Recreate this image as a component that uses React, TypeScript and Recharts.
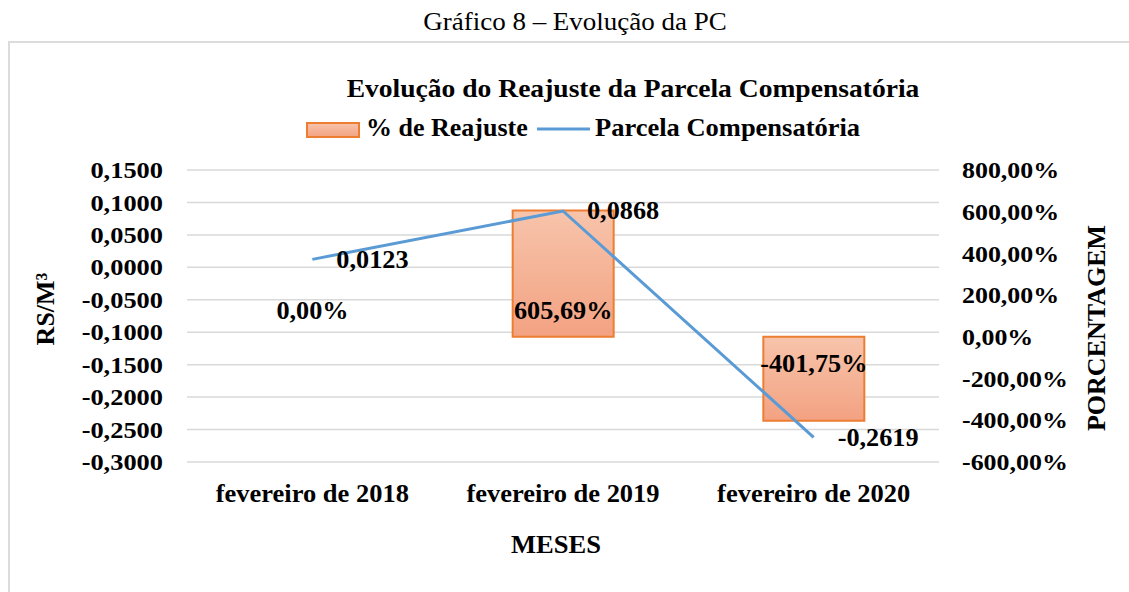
import React from 'react';
import { ComposedChart, Bar, Line, XAxis, YAxis, CartesianGrid, LabelList, Rectangle } from 'recharts';

const MONTHS = ['fevereiro de 2018', 'fevereiro de 2019', 'fevereiro de 2020'];
const PCT_REAJUSTE = [0, 605.69, -401.75];
const PARCELA = [0.0123, 0.0868, -0.2619];
const LEFT_TICKS = [0.15, 0.1, 0.05, 0, -0.05, -0.1, -0.15, -0.2, -0.25, -0.3];
const RIGHT_TICKS = [800, 600, 400, 200, 0, -200, -400, -600];

const HEADER = 'Gráfico 8 – Evolução da PC';
const TITLE = 'Evolução do Reajuste da Parcela Compensatória';
const SERIES_BAR = '% de Reajuste';
const SERIES_LINE = 'Parcela Compensatória';
const LEFT_LABEL = 'RS/M³';
const RIGHT_LABEL = 'PORCENTAGEM';
const X_LABEL = 'MESES';

const data = MONTHS.map((m, i) => ({ month: m, pct: PCT_REAJUSTE[i], pc: PARCELA[i] }));

const FONT = "'Liberation Serif', 'Times New Roman', serif";
const fmtLeft = (v: number) => v.toFixed(4).replace('.', ',');
const fmtPct = (v: number) => v.toFixed(2).replace('.', ',') + '%';

function SText({ x, y, fs, kx = 1, anchor = 'middle', weight = 'bold', children }: any) {
  return (
    <text
      transform={`translate(${x},${y}) scale(${kx},1)`}
      textAnchor={anchor}
      fontSize={fs}
      fontWeight={weight}
      fontFamily={FONT}
      fill="#000"
    >
      {children}
    </text>
  );
}

const LeftTick = (p: any) => (
  <SText x={p.x} y={p.y + 0.338 * 24} fs={24} kx={1.1} anchor="end">{fmtLeft(p.payload.value)}</SText>
);
const RightTick = (p: any) => (
  <SText x={p.x} y={p.y + 0.338 * 24} fs={24} kx={1.08} anchor="start">{fmtPct(p.payload.value)}</SText>
);
const XTick = (p: any) => (
  <SText x={p.x} y={p.y + 40} fs={25} kx={1.06} anchor="middle">{p.payload.value}</SText>
);

const BarShape = (p: any) => {
  const v = p.payload ? p.payload.pct : 1;
  if (v === 0) return <g />;
  return <Rectangle {...p} />;
};

const BarLabel = (p: any) => {
  const vb = p.viewBox || p;
  const x = vb.x, y = vb.y, w = vb.width, h = vb.height;
  const top = Math.min(y, y + h);
  const bottom = Math.max(y, y + h);
  const v = Number(p.value);
  const center = v >= 0 ? bottom - 26.7 : top + 26.7;
  return <SText x={x + w / 2} y={center + 0.338 * 25} fs={25} kx={1.05} anchor="middle">{fmtPct(v)}</SText>;
};

const LineLabel = (p: any) => {
  const vb = p.viewBox || {};
  const x = p.x ?? vb.x;
  const y = p.y ?? vb.y;
  return <SText x={x + 24} y={y + 0.338 * 25} fs={25} kx={1.05} anchor="start">{fmtLeft(Number(p.value))}</SText>;
};

export default function App() {
  return (
    <div style={{ position: 'absolute', left: 0, top: 0, width: 1129, height: 592, overflow: 'hidden', background: '#fff' }}>
      <div style={{ position: 'absolute', left: 8, top: 41, width: 1200, height: 700, border: '2px solid #DCDCDC', boxSizing: 'border-box' }} />
      <div style={{ position: 'absolute', left: 0, top: 0 }}>
        <ComposedChart width={1129} height={592} data={data} margin={{ top: 170, right: 0, bottom: 0, left: 0 }}>
          <defs>
            <linearGradient id="barGrad" x1="0" y1="0" x2="0" y2="1">
              <stop offset="0%" stopColor="#F7C4AB" />
              <stop offset="100%" stopColor="#F3A282" />
            </linearGradient>
          </defs>
          <CartesianGrid yAxisId="left" vertical={false} stroke="#D9D9D9" strokeWidth={1.5} />
          <XAxis dataKey="month" height={130} axisLine={false} tickLine={false} tickSize={0} tickMargin={0} tick={XTick} interval={0} />
          <YAxis yAxisId="left" orientation="left" width={187} domain={[-0.3, 0.15]} ticks={LEFT_TICKS} axisLine={false} tickLine={false} tickSize={0} tickMargin={24} tick={LeftTick} interval={0} allowDataOverflow />
          <YAxis yAxisId="right" orientation="right" width={190} domain={[-600, 800]} ticks={RIGHT_TICKS} axisLine={false} tickLine={false} tickSize={0} tickMargin={23} tick={RightTick} interval={0} allowDataOverflow />
          <Bar yAxisId="right" dataKey="pct" barSize={101} minPointSize={1} shape={BarShape} fill="url(#barGrad)" stroke="#ED7D31" strokeWidth={2} isAnimationActive={false}>
            <LabelList dataKey="pct" content={BarLabel} />
          </Bar>
          <Line yAxisId="left" dataKey="pc" type="linear" stroke="#5B9BD5" strokeWidth={3} dot={false} activeDot={false} isAnimationActive={false}>
            <LabelList dataKey="pc" content={LineLabel} />
          </Line>
        </ComposedChart>
      </div>
      <svg width={1129} height={592} style={{ position: 'absolute', left: 0, top: 0, pointerEvents: 'none' }}>
        <defs>
          <linearGradient id="legGrad" x1="0" y1="0" x2="0" y2="1">
            <stop offset="0%" stopColor="#F7C4AB" />
            <stop offset="100%" stopColor="#F3A282" />
          </linearGradient>
        </defs>
        <SText x={575} y={30} fs={25} kx={1.08} weight="normal">{HEADER}</SText>
        <SText x={633} y={97} fs={26} kx={1.06}>{TITLE}</SText>
        <rect x={307} y={123} width={52} height={14} fill="url(#legGrad)" stroke="#ED7D31" strokeWidth={2} />
        <SText x={366} y={136} fs={25} kx={1.04} anchor="start">{SERIES_BAR}</SText>
        <line x1={537} y1={129} x2={590} y2={129} stroke="#5B9BD5" strokeWidth={3} />
        <SText x={595} y={136} fs={25} kx={1.06} anchor="start">{SERIES_LINE}</SText>
        <g transform="translate(45,309) rotate(-90)">
          <text x={0} y={0.33 * 26} textAnchor="middle" fontSize={26} fontWeight="bold" fontFamily={FONT}>{LEFT_LABEL}</text>
        </g>
        <g transform="translate(1096,328) rotate(-90)">
          <text x={0} y={0.33 * 26} textAnchor="middle" fontSize={26} fontWeight="bold" fontFamily={FONT}>{RIGHT_LABEL}</text>
        </g>
        <SText x={556} y={553} fs={26} kx={1.02}>{X_LABEL}</SText>
      </svg>
    </div>
  );
}
